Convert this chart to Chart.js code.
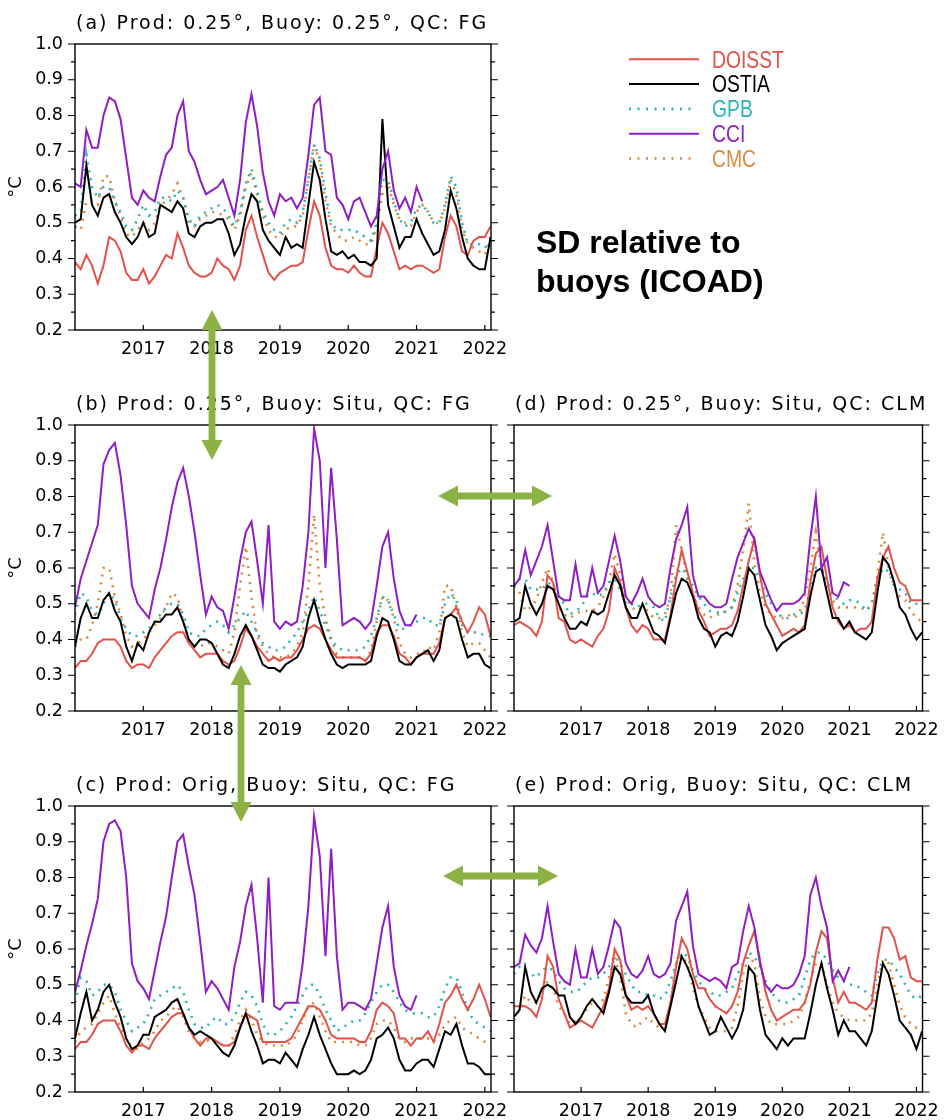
<!DOCTYPE html>
<html>
<head>
<meta charset="utf-8">
<script src="https://cdn.jsdelivr.net/npm/chart.js@4.4.0/dist/chart.umd.min.js"></script>
<style>
  body { margin: 0; background: #fff; width: 948px; height: 1120px; position: relative; overflow: hidden; }
  canvas { position: absolute; }
  #overlay { position: absolute; left: 0; top: 0; }
</style>
</head>
<body>
<canvas id="pa" width="520" height="370" style="left:0;top:0"></canvas>
<canvas id="pb" width="520" height="370" style="left:0;top:381px"></canvas>
<canvas id="pc" width="520" height="358" style="left:0;top:762px"></canvas>
<canvas id="pd" width="509" height="370" style="left:439px;top:381px"></canvas>
<canvas id="pe" width="509" height="358" style="left:439px;top:762px"></canvas>
<svg id="overlay" width="948" height="1120"></svg>
<script>
// monthly SD values, Jan 2016 .. Feb 2022 (CCI stops early 2021)
const yearTicks = [2017, 2018, 2019, 2020, 2021, 2022];
const yTicks = [0.2, 0.25, 0.3, 0.35, 0.4, 0.45, 0.5, 0.55, 0.6, 0.65, 0.7, 0.75, 0.8, 0.85, 0.9, 0.95, 1.0];
const products = ['CCI', 'OSTIA', 'DOISST', 'GPB', 'CMC'];
const legendOrder = ['DOISST', 'OSTIA', 'GPB', 'CCI', 'CMC'];

// (a) Prod 0.25, Buoy 0.25, QC FG
const doisst_a = [0.39,0.37,0.41,0.38,0.33,0.38,0.46,0.45,0.42,0.36,0.34,0.34,
  0.37,0.33,0.35,0.38,0.41,0.40,0.47,0.43,0.38,0.36,0.35,0.35,
  0.36,0.40,0.38,0.37,0.34,0.38,0.48,0.52,0.46,0.41,0.36,0.34,
  0.36,0.37,0.38,0.38,0.39,0.48,0.56,0.52,0.43,0.38,0.37,0.37,
  0.36,0.38,0.36,0.35,0.35,0.43,0.50,0.47,0.42,0.37,0.38,0.37,
  0.38,0.38,0.37,0.36,0.37,0.46,0.52,0.49,0.42,0.41,0.45,0.46,
  0.46,0.49];
const ostia_a = [0.50,0.51,0.66,0.55,0.52,0.57,0.58,0.53,0.50,0.46,0.44,0.46,
  0.50,0.46,0.47,0.55,0.54,0.53,0.56,0.54,0.47,0.46,0.49,0.50,
  0.50,0.51,0.51,0.47,0.41,0.44,0.52,0.58,0.56,0.48,0.45,0.43,
  0.41,0.46,0.43,0.44,0.43,0.55,0.67,0.62,0.51,0.42,0.41,0.42,
  0.40,0.41,0.39,0.39,0.38,0.40,0.79,0.55,0.49,0.43,0.46,0.46,
  0.51,0.47,0.44,0.41,0.42,0.48,0.59,0.54,0.46,0.40,0.38,0.37,
  0.37,0.46];
const gpb_a = [0.52,0.53,0.69,0.60,0.57,0.60,0.60,0.56,0.53,0.49,0.48,0.51,
  0.55,0.52,0.53,0.57,0.57,0.56,0.59,0.57,0.51,0.49,0.52,0.53,
  0.54,0.55,0.54,0.52,0.49,0.53,0.61,0.65,0.59,0.53,0.50,0.48,
  0.47,0.50,0.51,0.50,0.53,0.62,0.72,0.68,0.58,0.50,0.48,0.48,
  0.48,0.48,0.47,0.46,0.45,0.50,0.62,0.62,0.56,0.51,0.49,0.50,
  0.54,0.55,0.53,0.50,0.50,0.55,0.63,0.60,0.50,0.44,0.44,0.44,
  0.43,0.45];
const cci_a = [0.61,0.60,0.76,0.71,0.71,0.80,0.85,0.84,0.79,0.68,0.57,0.55,
  0.59,0.57,0.56,0.63,0.69,0.71,0.80,0.84,0.70,0.67,0.62,0.58,
  0.59,0.60,0.62,0.57,0.52,0.62,0.78,0.86,0.77,0.64,0.56,0.52,
  0.58,0.56,0.57,0.54,0.57,0.69,0.83,0.85,0.70,0.69,0.57,0.55,
  0.51,0.56,0.57,0.53,0.49,0.52,0.65,0.70,0.59,0.54,0.57,0.53,
  0.60,0.56];
const cmc_a = [0.49,0.48,0.56,0.56,0.55,0.63,0.63,0.56,0.52,0.47,0.46,0.48,
  0.50,0.48,0.50,0.55,0.56,0.58,0.61,0.57,0.50,0.49,0.51,0.52,
  0.53,0.53,0.52,0.51,0.48,0.52,0.60,0.64,0.58,0.52,0.48,0.46,
  0.46,0.48,0.49,0.49,0.52,0.62,0.72,0.67,0.56,0.49,0.47,0.45,
  0.45,0.46,0.45,0.44,0.44,0.49,0.58,0.61,0.55,0.51,0.50,0.49,
  0.53,0.55,0.53,0.50,0.50,0.54,0.62,0.58,0.48,0.44,0.43,0.42,
  0.41,0.46];

// (b) Prod 0.25, Buoy Situ, QC FG
const doisst_b = [0.32,0.34,0.34,0.36,0.39,0.40,0.40,0.40,0.38,0.34,0.32,0.33,
  0.33,0.32,0.35,0.37,0.39,0.41,0.42,0.42,0.39,0.37,0.35,0.36,
  0.36,0.36,0.34,0.33,0.34,0.38,0.43,0.41,0.38,0.36,0.34,0.35,
  0.34,0.35,0.35,0.37,0.40,0.43,0.44,0.43,0.40,0.37,0.35,0.35,
  0.35,0.35,0.35,0.34,0.36,0.42,0.44,0.44,0.41,0.36,0.35,0.33,
  0.35,0.36,0.36,0.36,0.39,0.46,0.47,0.49,0.45,0.42,0.45,0.49,
  0.47,0.41];
const ostia_b = [0.38,0.46,0.50,0.46,0.46,0.51,0.53,0.48,0.45,0.38,0.34,0.39,
  0.37,0.42,0.45,0.45,0.47,0.47,0.49,0.45,0.40,0.38,0.40,0.40,
  0.39,0.36,0.33,0.32,0.36,0.41,0.44,0.41,0.37,0.33,0.32,0.32,
  0.31,0.33,0.34,0.35,0.38,0.46,0.51,0.45,0.40,0.36,0.33,0.32,
  0.33,0.33,0.33,0.33,0.34,0.41,0.46,0.45,0.40,0.34,0.33,0.33,
  0.35,0.36,0.37,0.34,0.37,0.46,0.47,0.46,0.40,0.35,0.36,0.36,
  0.33,0.32];
const gpb_b = [0.47,0.53,0.52,0.48,0.47,0.50,0.53,0.51,0.46,0.43,0.41,0.41,
  0.42,0.43,0.45,0.47,0.49,0.50,0.50,0.47,0.42,0.41,0.41,0.43,
  0.44,0.45,0.44,0.42,0.44,0.46,0.48,0.45,0.42,0.39,0.38,0.37,
  0.37,0.38,0.40,0.42,0.45,0.48,0.52,0.48,0.44,0.40,0.38,0.37,
  0.37,0.37,0.37,0.38,0.41,0.46,0.52,0.51,0.47,0.43,0.43,0.44,
  0.45,0.46,0.46,0.44,0.44,0.50,0.53,0.51,0.44,0.42,0.42,0.42,
  0.41,0.41];
const cci_b = [0.49,0.57,0.62,0.67,0.72,0.89,0.93,0.95,0.86,0.72,0.55,0.50,
  0.48,0.46,0.54,0.60,0.68,0.77,0.84,0.88,0.80,0.70,0.58,0.47,
  0.52,0.49,0.48,0.43,0.52,0.62,0.70,0.73,0.62,0.50,0.72,0.45,
  0.43,0.45,0.44,0.45,0.55,0.70,0.99,0.90,0.60,0.88,0.68,0.44,
  0.45,0.46,0.45,0.43,0.45,0.55,0.66,0.70,0.57,0.48,0.44,0.44,
  0.47];
const cmc_b = [0.38,0.40,0.40,0.44,0.50,0.60,0.60,0.52,0.47,0.41,0.38,0.39,
  0.40,0.42,0.44,0.46,0.49,0.53,0.52,0.45,0.40,0.38,0.38,0.39,
  0.39,0.38,0.37,0.36,0.42,0.55,0.66,0.52,0.41,0.38,0.36,0.35,
  0.35,0.35,0.36,0.38,0.42,0.55,0.75,0.55,0.46,0.40,0.36,0.35,
  0.35,0.35,0.35,0.34,0.37,0.45,0.52,0.51,0.46,0.39,0.36,0.35,
  0.36,0.36,0.38,0.37,0.42,0.55,0.55,0.49,0.42,0.38,0.39,0.39,
  0.37,0.35];

// (c) Prod Orig, Buoy Situ, QC FG
const doisst_c = [0.32,0.34,0.34,0.36,0.39,0.40,0.40,0.40,0.37,0.33,0.31,0.33,
  0.33,0.32,0.35,0.37,0.39,0.41,0.42,0.42,0.38,0.35,0.33,0.35,
  0.35,0.34,0.33,0.33,0.34,0.38,0.42,0.41,0.40,0.34,0.34,0.34,
  0.34,0.34,0.35,0.38,0.41,0.44,0.44,0.43,0.40,0.36,0.35,0.35,
  0.35,0.35,0.34,0.34,0.37,0.43,0.45,0.44,0.42,0.35,0.35,0.33,
  0.35,0.35,0.37,0.34,0.39,0.45,0.47,0.50,0.46,0.43,0.46,0.50,
  0.46,0.41];
const ostia_c = [0.35,0.42,0.48,0.40,0.43,0.48,0.50,0.45,0.41,0.35,0.32,0.33,
  0.36,0.36,0.41,0.42,0.43,0.45,0.46,0.42,0.38,0.36,0.37,0.36,
  0.35,0.33,0.31,0.30,0.33,0.38,0.42,0.37,0.33,0.28,0.29,0.29,
  0.28,0.31,0.29,0.27,0.32,0.36,0.41,0.36,0.32,0.28,0.25,0.25,
  0.25,0.26,0.25,0.26,0.29,0.35,0.36,0.38,0.35,0.29,0.26,0.26,
  0.28,0.29,0.29,0.27,0.32,0.37,0.36,0.39,0.33,0.28,0.28,0.27,
  0.25,0.25];
const gpb_c = [0.45,0.52,0.51,0.47,0.48,0.50,0.50,0.48,0.43,0.40,0.37,0.38,
  0.39,0.42,0.46,0.47,0.48,0.49,0.50,0.48,0.43,0.39,0.38,0.38,
  0.40,0.41,0.39,0.39,0.41,0.45,0.48,0.47,0.44,0.39,0.36,0.36,
  0.37,0.39,0.41,0.44,0.47,0.50,0.50,0.47,0.43,0.40,0.37,0.38,
  0.39,0.40,0.40,0.42,0.45,0.48,0.50,0.50,0.48,0.45,0.43,0.42,
  0.42,0.42,0.41,0.41,0.44,0.49,0.52,0.52,0.48,0.43,0.40,0.39,
  0.38,0.37];
const cci_c = [0.48,0.54,0.61,0.67,0.74,0.90,0.95,0.96,0.93,0.80,0.56,0.51,
  0.49,0.46,0.54,0.62,0.69,0.80,0.90,0.92,0.83,0.75,0.62,0.48,
  0.51,0.49,0.46,0.43,0.55,0.62,0.72,0.78,0.63,0.45,0.80,0.44,
  0.43,0.45,0.45,0.45,0.56,0.72,0.97,0.86,0.58,0.88,0.58,0.43,
  0.45,0.45,0.44,0.43,0.46,0.56,0.66,0.72,0.55,0.47,0.44,0.43,
  0.47];
const cmc_c = [0.34,0.37,0.38,0.39,0.42,0.45,0.47,0.42,0.38,0.34,0.33,0.32,
  0.34,0.35,0.37,0.40,0.41,0.43,0.44,0.41,0.37,0.35,0.34,0.34,
  0.35,0.34,0.33,0.33,0.36,0.40,0.43,0.40,0.36,0.34,0.33,0.33,
  0.33,0.33,0.34,0.36,0.40,0.44,0.45,0.41,0.37,0.34,0.34,0.34,
  0.34,0.34,0.33,0.33,0.35,0.39,0.40,0.40,0.38,0.35,0.34,0.35,
  0.35,0.35,0.35,0.34,0.36,0.39,0.40,0.41,0.38,0.37,0.36,0.35,
  0.34,0.33];

// (d) Prod 0.25, Buoy Situ, QC CLM
const doisst_d = [0.44,0.45,0.44,0.43,0.41,0.45,0.58,0.56,0.46,0.45,0.40,0.39,
  0.40,0.39,0.38,0.41,0.43,0.48,0.60,0.56,0.49,0.44,0.42,0.44,
  0.43,0.40,0.40,0.40,0.47,0.57,0.65,0.59,0.53,0.48,0.45,0.41,
  0.42,0.43,0.43,0.44,0.48,0.55,0.62,0.68,0.58,0.50,0.47,0.44,
  0.41,0.42,0.43,0.42,0.44,0.56,0.64,0.66,0.57,0.49,0.45,0.43,
  0.44,0.42,0.43,0.43,0.45,0.57,0.63,0.66,0.60,0.56,0.55,0.51,
  0.51,0.51];
const ostia_d = [0.45,0.46,0.55,0.50,0.47,0.50,0.55,0.54,0.50,0.46,0.43,0.43,
  0.45,0.44,0.48,0.47,0.48,0.53,0.58,0.55,0.49,0.46,0.46,0.50,
  0.46,0.42,0.41,0.39,0.46,0.53,0.57,0.56,0.52,0.46,0.43,0.42,
  0.38,0.41,0.42,0.41,0.45,0.52,0.60,0.58,0.51,0.44,0.41,0.37,
  0.39,0.40,0.41,0.42,0.43,0.52,0.59,0.60,0.53,0.46,0.46,0.43,
  0.45,0.42,0.41,0.40,0.42,0.53,0.63,0.61,0.56,0.49,0.47,0.43,
  0.40,0.42];
const gpb_d = [0.55,0.57,0.57,0.54,0.54,0.54,0.56,0.55,0.52,0.50,0.47,0.48,
  0.49,0.52,0.53,0.52,0.53,0.56,0.57,0.54,0.50,0.50,0.49,0.50,
  0.50,0.49,0.46,0.45,0.52,0.58,0.60,0.58,0.55,0.52,0.50,0.48,
  0.48,0.47,0.48,0.49,0.53,0.57,0.60,0.60,0.57,0.53,0.50,0.48,
  0.46,0.46,0.47,0.47,0.48,0.54,0.60,0.60,0.56,0.53,0.51,0.50,
  0.51,0.51,0.50,0.48,0.50,0.56,0.60,0.59,0.55,0.54,0.53,0.50,
  0.50,0.49];
const cci_d = [0.55,0.57,0.65,0.58,0.62,0.66,0.72,0.62,0.52,0.51,0.51,0.61,
  0.52,0.52,0.60,0.53,0.55,0.62,0.69,0.62,0.52,0.50,0.53,0.57,
  0.52,0.50,0.49,0.50,0.60,0.68,0.72,0.77,0.58,0.52,0.52,0.50,
  0.49,0.49,0.50,0.57,0.63,0.67,0.71,0.68,0.59,0.55,0.51,0.48,
  0.50,0.50,0.50,0.51,0.53,0.68,0.80,0.60,0.63,0.53,0.52,0.56,
  0.55];
const cmc_d = [0.55,0.53,0.48,0.49,0.51,0.56,0.60,0.56,0.49,0.47,0.46,0.47,
  0.48,0.48,0.48,0.49,0.52,0.56,0.64,0.58,0.52,0.49,0.48,0.49,
  0.48,0.46,0.46,0.47,0.52,0.72,0.65,0.57,0.52,0.49,0.47,0.46,
  0.47,0.47,0.48,0.49,0.55,0.65,0.78,0.61,0.53,0.49,0.47,0.46,
  0.46,0.47,0.46,0.47,0.52,0.60,0.70,0.60,0.55,0.51,0.49,0.49,
  0.49,0.49,0.49,0.48,0.50,0.58,0.70,0.60,0.55,0.52,0.51,0.48,
  0.46,0.45];

// (e) Prod Orig, Buoy Situ, QC CLM
const doisst_e = [0.44,0.44,0.44,0.43,0.41,0.46,0.58,0.55,0.46,0.42,0.38,0.39,
  0.40,0.39,0.38,0.41,0.44,0.49,0.60,0.57,0.47,0.43,0.44,0.43,
  0.44,0.42,0.39,0.39,0.45,0.55,0.63,0.60,0.53,0.49,0.49,0.46,
  0.44,0.43,0.42,0.44,0.48,0.56,0.61,0.65,0.57,0.48,0.43,0.40,
  0.41,0.42,0.43,0.43,0.45,0.50,0.59,0.65,0.63,0.52,0.45,0.48,
  0.45,0.45,0.44,0.43,0.45,0.57,0.66,0.66,0.63,0.57,0.58,0.52,
  0.51,0.51];
const ostia_e = [0.41,0.43,0.55,0.48,0.45,0.49,0.50,0.49,0.47,0.47,0.41,0.39,
  0.41,0.44,0.46,0.44,0.42,0.48,0.55,0.53,0.47,0.45,0.45,0.45,
  0.47,0.42,0.39,0.37,0.44,0.51,0.58,0.55,0.51,0.44,0.40,0.36,
  0.37,0.41,0.38,0.35,0.38,0.43,0.55,0.53,0.43,0.36,0.34,0.32,
  0.35,0.33,0.35,0.35,0.35,0.42,0.50,0.56,0.49,0.43,0.36,0.40,
  0.37,0.37,0.35,0.33,0.37,0.47,0.56,0.53,0.47,0.40,0.38,0.36,
  0.32,0.37];
const gpb_e = [0.53,0.55,0.54,0.53,0.52,0.54,0.55,0.54,0.51,0.49,0.48,0.48,
  0.49,0.51,0.52,0.52,0.53,0.55,0.58,0.56,0.53,0.50,0.48,0.48,
  0.47,0.47,0.46,0.47,0.51,0.56,0.59,0.58,0.54,0.51,0.49,0.48,
  0.47,0.47,0.48,0.49,0.53,0.56,0.59,0.58,0.55,0.51,0.48,0.46,
  0.45,0.45,0.46,0.47,0.52,0.57,0.59,0.59,0.57,0.54,0.52,0.51,
  0.50,0.50,0.49,0.48,0.47,0.53,0.57,0.57,0.55,0.53,0.50,0.47,
  0.46,0.47];
const cci_e = [0.55,0.56,0.64,0.61,0.59,0.63,0.72,0.62,0.53,0.51,0.50,0.60,
  0.52,0.52,0.60,0.53,0.55,0.61,0.68,0.66,0.56,0.53,0.52,0.54,
  0.58,0.53,0.52,0.53,0.56,0.68,0.72,0.76,0.61,0.53,0.52,0.51,
  0.52,0.51,0.49,0.55,0.56,0.65,0.72,0.66,0.56,0.50,0.48,0.50,
  0.49,0.49,0.50,0.53,0.58,0.75,0.80,0.72,0.66,0.51,0.54,0.51,
  0.55];
const cmc_e = [0.40,0.43,0.47,0.45,0.45,0.48,0.51,0.49,0.44,0.42,0.39,0.40,
  0.41,0.43,0.45,0.44,0.46,0.52,0.58,0.52,0.42,0.39,0.38,0.40,
  0.41,0.39,0.38,0.38,0.45,0.56,0.58,0.56,0.49,0.44,0.41,0.38,
  0.37,0.37,0.37,0.38,0.44,0.53,0.58,0.56,0.46,0.41,0.39,0.39,
  0.39,0.39,0.40,0.41,0.45,0.51,0.56,0.56,0.50,0.45,0.42,0.41,
  0.40,0.40,0.40,0.40,0.42,0.50,0.57,0.56,0.50,0.44,0.41,0.39,
  0.38,0.38];

const colors = { DOISST: '#e2524a', OSTIA: '#000000', GPB: '#2ab5b8', CCI: '#8e1ec4', CMC: '#da8a3c' };
const dotted = { GPB: true, CMC: true };
const tickFont = { family: 'DejaVu Sans', size: 17.5 };

const isMajor = v => Math.abs(v * 10 - Math.round(v * 10)) < 1e-6;

// box, ticks on both sides, inward year ticks, panel title
const framePlugin = {
  id: 'frame',
  afterDraw(chart, args, opts) {
    const { ctx, chartArea: a } = chart;
    const xs = chart.scales.x, ys = chart.scales.y;
    ctx.save();
    ctx.strokeStyle = '#000';
    ctx.lineWidth = 1.4;
    ctx.strokeRect(a.left, a.top, a.right - a.left, a.bottom - a.top);
    ctx.lineWidth = 1.2;
    ctx.beginPath();
    ys.ticks.forEach(t => {
      const py = ys.getPixelForValue(t.value);
      const len = isMajor(t.value) ? 7 : 4;
      ctx.moveTo(a.left - len, py); ctx.lineTo(a.left, py);
      ctx.moveTo(a.right, py); ctx.lineTo(a.right + len, py);
    });
    xs.ticks.forEach(t => {
      const px = xs.getPixelForValue(t.value);
      ctx.moveTo(px, a.bottom); ctx.lineTo(px, a.bottom - 5);
    });
    ctx.stroke();
    ctx.font = '19px "DejaVu Sans"';
    ctx.letterSpacing = '2px';
    ctx.fillStyle = '#000';
    ctx.textAlign = 'left';
    ctx.textBaseline = 'alphabetic';
    ctx.fillText(opts.title, a.left + 1, a.top - 15);
    ctx.restore();
  }
};

function panel(id, title, series, showY, xAxisH, rightPad) {
  const datasets = products.map(p => ({
    label: p,
    data: series[p].map((v, i) => ({ x: 2016 + i / 12, y: v })),
    borderColor: colors[p],
    borderWidth: dotted[p] ? 2.6 : 2,
    borderDash: dotted[p] ? [2, 6] : [],
    pointRadius: 0,
    tension: 0,
    fill: false
  }));
  return new Chart(document.getElementById(id), {
    type: 'line',
    data: { datasets },
    options: {
      responsive: false,
      animation: false,
      events: [],
      layout: { padding: { left: 0, top: 44, right: rightPad, bottom: 0 } },
      plugins: { legend: { display: false }, tooltip: { enabled: false }, frame: { title } },
      scales: {
        x: {
          type: 'linear', min: 2016, max: 2022.09,
          afterBuildTicks: s => { s.ticks = yearTicks.map(v => ({ value: v })); },
          afterFit: s => { s.height = xAxisH; },
          grid: { display: false, drawTicks: false },
          border: { display: false },
          ticks: { font: tickFont, color: '#000', padding: 9, maxRotation: 0, autoSkip: false, callback: v => String(v) }
        },
        y: {
          min: 0.2, max: 1.0,
          afterBuildTicks: s => { s.ticks = yTicks.map(v => ({ value: v })); },
          afterFit: s => { s.width = 75; },
          grid: { display: false, drawTicks: false },
          border: { display: false },
          ticks: { font: tickFont, color: '#000', padding: 12, autoSkip: false,
                   callback: v => (showY && isMajor(v)) ? v.toFixed(1) : '' },
          title: { display: showY, text: '°C', color: '#000', font: { family: 'DejaVu Sans', size: 18 }, padding: { top: 6, bottom: 0 } }
        }
      }
    },
    plugins: [framePlugin]
  });
}

panel('pa', '(a) Prod: 0.25°, Buoy: 0.25°, QC: FG',
  { DOISST: doisst_a, OSTIA: ostia_a, GPB: gpb_a, CCI: cci_a, CMC: cmc_a }, true, 40, 29);
panel('pb', '(b) Prod: 0.25°, Buoy: Situ, QC: FG',
  { DOISST: doisst_b, OSTIA: ostia_b, GPB: gpb_b, CCI: cci_b, CMC: cmc_b }, true, 40, 29);
panel('pc', '(c) Prod: Orig, Buoy: Situ, QC: FG',
  { DOISST: doisst_c, OSTIA: ostia_c, GPB: gpb_c, CCI: cci_c, CMC: cmc_c }, true, 28, 29);
panel('pd', '(d) Prod: 0.25°, Buoy: Situ, QC: CLM',
  { DOISST: doisst_d, OSTIA: ostia_d, GPB: gpb_d, CCI: cci_d, CMC: cmc_d }, false, 40, 17);
panel('pe', '(e) Prod: Orig, Buoy: Situ, QC: CLM',
  { DOISST: doisst_e, OSTIA: ostia_e, GPB: gpb_e, CCI: cci_e, CMC: cmc_e }, false, 28, 17);

// overlay: legend, caption, green comparison arrows
const svgNS = 'http://www.w3.org/2000/svg';
const svg = document.getElementById('overlay');
function el(tag, attrs, text) {
  const e = document.createElementNS(svgNS, tag);
  for (const k in attrs) e.setAttribute(k, attrs[k]);
  if (text) e.textContent = text;
  svg.appendChild(e);
  return e;
}

legendOrder.forEach((p, i) => {
  const y = 59.3 + i * 24.8;
  el('line', { x1: 629, y1: y, x2: dotted[p] ? 696 : 699, y2: y, stroke: colors[p],
    'stroke-width': dotted[p] ? 2.6 : 2, 'stroke-dasharray': dotted[p] ? '2 6.5' : 'none' });
  el('text', { x: 0, y: 0, 'font-family': 'Liberation Sans, Arial, sans-serif', 'font-size': 23,
    fill: colors[p], transform: `translate(712 ${y + 8.3}) scale(0.84 1)` }, p);
});

el('text', { x: 536, y: 253, 'font-family': 'Liberation Sans, Arial, sans-serif', 'font-size': 32,
  'font-weight': 'bold', fill: '#000' }, 'SD relative to');
el('text', { x: 536, y: 292, 'font-family': 'Liberation Sans, Arial, sans-serif', 'font-size': 32,
  'font-weight': 'bold', fill: '#000' }, 'buoys (ICOAD)');

const arrows = [[212, 310, 212, 460], [241, 665, 241, 822], [438, 496, 552, 496], [443, 876, 558, 876]];
arrows.forEach(([x1, y1, x2, y2]) => {
  const len = Math.hypot(x2 - x1, y2 - y1);
  const ux = (x2 - x1) / len, uy = (y2 - y1) / len;
  const nx = -uy, ny = ux;
  const hl = 20, hw = 10.5, sw = 3.4;
  const pts = [
    [0, 0], [hl, hw], [hl, sw], [len - hl, sw], [len - hl, hw], [len, 0],
    [len - hl, -hw], [len - hl, -sw], [hl, -sw], [hl, -hw]
  ].map(([s, t]) => `${(x1 + ux * s + nx * t).toFixed(1)},${(y1 + uy * s + ny * t).toFixed(1)}`).join(' ');
  el('polygon', { points: pts, fill: '#8cb246' });
});
</script>
</body>
</html>
